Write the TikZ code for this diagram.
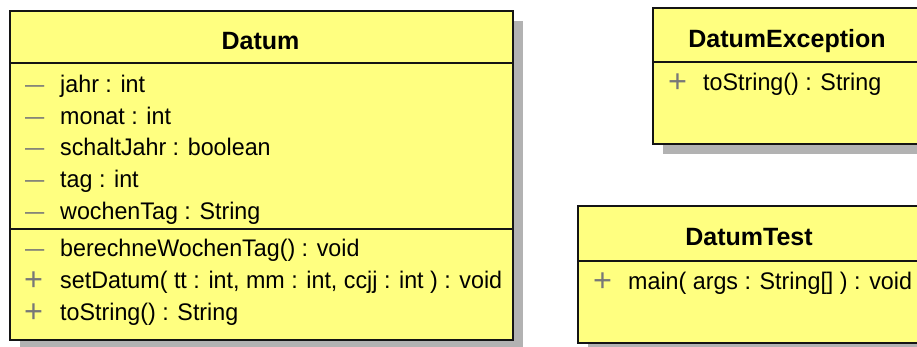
\documentclass[tikz,border=0pt]{standalone}
\usepackage{fontspec}
\setmainfont{Liberation Sans}
\newfontfamily\narrowsans[FakeStretch=0.97]{Liberation Sans}
\usetikzlibrary{shadows}
\definecolor{umlyellow}{RGB}{255,255,128}
\definecolor{umlshadow}{RGB}{178,178,178}
\definecolor{umlborder}{RGB}{20,20,20}
\definecolor{vismark}{RGB}{120,120,120}
\tikzset{
  classbox/.style={draw=umlborder, line width=2pt, fill=umlyellow, anchor=north west,
    inner sep=0pt, drop shadow={shadow xshift=10pt, shadow yshift=-10pt, fill=umlshadow, opacity=1}},
  sepline/.style={draw=umlborder, line width=2pt},
  ctitle/.style={anchor=base, inner sep=0pt, font=\fontsize{25}{25}\selectfont\bfseries},
  member/.style={anchor=base west, inner sep=0pt, font=\narrowsans\fontsize{24}{24}\selectfont},
  vis/.style={anchor=base west, inner sep=0pt, text=vismark, font=\fontsize{24}{24}\selectfont},
}
\newcommand{\vpriv}{\scalebox{0.8}[1]{—}}
\newcommand{\vpub}{\scalebox{1.35}{+}}
\begin{document}
\begin{tikzpicture}[x=1pt,y=-1pt]
\useasboundingbox (0,0) rectangle (917,347);
\clip (0,0) rectangle (917,347);
% Datum
\node[classbox, minimum width=503pt, minimum height=329pt] (datum) at (9,10) {};
\draw[sepline] (datum.west |- 0,63) coordinate (d1a) -- (datum.east |- 0,63) coordinate (d1b);
\draw[sepline] (datum.west |- 0,229) coordinate (d2a) -- (datum.east |- 0,229) coordinate (d2b);
\node[ctitle] (dtitle) at (260.5,50) {Datum};
\node[vis] (dv1) at (25,93) {\vpriv};
\node[member] (dm1) at (60,93) {jahr : int};
\node[vis] (dv2) at (25,124.5) {\vpriv};
\node[member] (dm2) at (60,124.5) {monat : int};
\node[vis] (dv3) at (25,156) {\vpriv};
\node[member] (dm3) at (60,156) {schaltJahr : boolean};
\node[vis] (dv4) at (25,187.5) {\vpriv};
\node[member] (dm4) at (60,187.5) {tag : int};
\node[vis] (dv5) at (25,219) {\vpriv};
\node[member] (dm5) at (60,219) {wochenTag : String};
\node[vis] (dv6) at (25,256) {\vpriv};
\node[member] (dm6) at (60,256) {berechneWochenTag() : void};
\node[vis] (dv7) at (24,290) {\vpub};
\node[member] (dm7) at (60,288) {setDatum( tt : int, mm : int, ccjj : int ) : void};
\node[vis] (dv8) at (24,322) {\vpub};
\node[member] (dm8) at (60,320) {toString() : String};
% DatumException
\node[classbox, minimum width=270pt, minimum height=136pt] (dexc) at (652,7) {};
\draw[sepline] (dexc.west |- 0,62) coordinate (e1a) -- (dexc.east |- 0,62) coordinate (e1b);
\node[ctitle] (etitle) at (787,48) {DatumException};
\node[vis] (ev1) at (668,93) {\vpub};
\node[member] (em1) at (703,91) {toString() : String};
% DatumTest
\node[classbox, minimum width=345pt, minimum height=137pt] (dtest) at (577,205) {};
\draw[sepline] (dtest.west |- 0,261) coordinate (t1a) -- (dtest.east |- 0,261) coordinate (t1b);
\node[ctitle] (ttitle) at (749,245) {DatumTest};
\node[vis] (tv1) at (593,291) {\vpub};
\node[member] (tm1) at (628,289) {main( args : String[] ) : void};
\end{tikzpicture}
\end{document}
